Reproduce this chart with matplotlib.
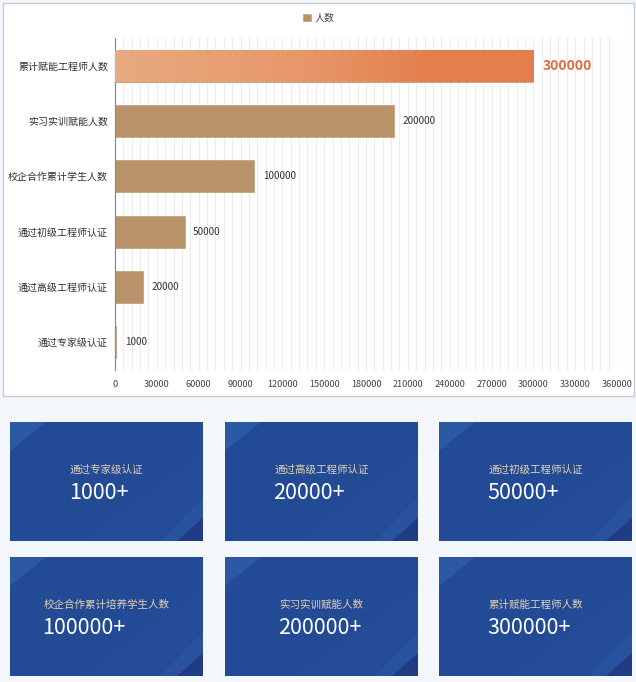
import matplotlib
matplotlib.use("Agg")
import matplotlib.pyplot as plt
import numpy as np
from matplotlib.patches import Rectangle, Polygon
from matplotlib.colors import LinearSegmentedColormap

plt.rcParams['font.family'] = ['Noto Sans CJK SC', 'DejaVu Sans']

# ---------------- data ----------------
categories = ['通过专家级认证', '通过高级工程师认证', '通过初级工程师认证',
              '校企合作累计学生人数', '实习实训赋能人数', '累计赋能工程师人数']
values = [1000, 20000, 50000, 100000, 200000, 300000]
series_name = '人数'
x_ticks = list(range(0, 360001, 30000))

card_labels = ['通过专家级认证', '通过高级工程师认证', '通过初级工程师认证',
               '校企合作累计培养学生人数', '实习实训赋能人数', '累计赋能工程师人数']
card_values = ['1000+', '20000+', '50000+', '100000+', '200000+', '300000+']

# ---------------- figure ----------------
W, H = 636, 682
fig = plt.figure(figsize=(W / 100, H / 100), dpi=100)
fig.patch.set_facecolor('#f3f6fa')

bg = fig.add_axes([0, 0, 1, 1], zorder=0)
bg.set_xlim(0, W)
bg.set_ylim(H, 0)
bg.axis('off')

# chart panel
bg.add_patch(Rectangle((2.5, 2.5), 631.5, 393.5, facecolor='white',
                       edgecolor='#c9cdd6', linewidth=1.0))

# cards
card_x = [10, 225, 439]
card_y = [422, 557]
cw, ch = 193, 119
card_texts = []
for i, (lab, val) in enumerate(zip(card_labels, card_values)):
    r, c = divmod(i, 3)
    x0, y0 = card_x[c], card_y[r]
    bg.add_patch(Rectangle((x0, y0), cw, ch, facecolor='#234a94', edgecolor='none'))
    # subtle lighter diagonal bands
    bg.add_patch(Polygon([(x0 + cw, y0 + 30), (x0 + cw, y0 + 75), (x0 + 150, y0 + ch),
                          (x0 + 70, y0 + ch)], closed=True, facecolor='#254d97',
                         edgecolor='none'))
    bg.add_patch(Polygon([(x0 + cw, y0 + 75), (x0 + cw, y0 + 96), (x0 + 167, y0 + ch),
                          (x0 + 150, y0 + ch)], closed=True, facecolor='#28529d',
                         edgecolor='none'))
    # top-left light triangle
    bg.add_patch(Polygon([(x0, y0), (x0 + 36, y0), (x0, y0 + 29)], closed=True,
                         facecolor='#2c59a4', edgecolor='none'))
    # bottom-right dark triangle
    bg.add_patch(Polygon([(x0 + cw, y0 + 96), (x0 + cw, y0 + ch), (x0 + 167, y0 + ch)],
                         closed=True, facecolor='#203c83', edgecolor='none'))
    cx = x0 + cw / 2
    t = bg.text(cx, y0 + 47.5, lab, ha='center', va='center', fontsize=7.6,
                color='#e2d0b2')
    card_texts.append((t, val, y0))

fig.canvas.draw()
renderer = fig.canvas.get_renderer()
inv = bg.transData.inverted()
for t, val, y0 in card_texts:
    bb = t.get_window_extent(renderer)
    left = inv.transform((bb.x0, bb.y0))[0]
    bg.text(left - 1, y0 + 71, val, ha='left', va='center', fontsize=15.5,
            fontweight='medium', color='white')

# ---------------- bar chart ----------------
L, R, T, B = 115, 617, 38, 370
ax = fig.add_axes([L / W, 1 - B / H, (R - L) / W, (B - T) / H], zorder=2)
ax.patch.set_alpha(0)

ypos = np.arange(len(categories))
bars = ax.barh(ypos, values, height=0.58, color='#b8936a', label=series_name,
               zorder=2, edgecolor='#b8936a', linewidth=0.4)

# gradient for the largest bar
top = bars[-1]
cmap = LinearSegmentedColormap.from_list('g', [(0, '#e8aa80'), (0.45, '#e7976a'),
                                               (0.75, '#e47f4e'), (1, '#e47e4c')])
grad = np.linspace(0, 1, 256).reshape(1, -1)
im = ax.imshow(grad, cmap=cmap, aspect='auto',
               extent=[0, values[-1], ypos[-1] - 0.29, ypos[-1] + 0.29], zorder=3)
im.set_clip_path(top)

ax.set_xlim(0, 360000)
ax.set_ylim(-0.5, len(categories) - 0.5)

# grid lines every 6000
for gx in np.arange(6000, 360001, 6000):
    ax.axvline(gx, color='#ececec', linewidth=0.8, zorder=1)

ax.set_xticks(x_ticks)
ax.set_xticklabels([str(v) for v in x_ticks], fontsize=6.6, color='#444444')
ax.set_yticks(ypos)
ax.set_yticklabels(categories, fontsize=7.2, color='#333333')
ax.tick_params(axis='both', length=0)
ax.tick_params(axis='x', pad=7)
ax.tick_params(axis='y', pad=5)
for s in ['top', 'right', 'bottom']:
    ax.spines[s].set_visible(False)
ax.spines['left'].set_color('#8c8c8c')
ax.spines['left'].set_linewidth(0.9)

for i, (yv, v) in enumerate(zip(ypos, values)):
    if i == len(values) - 1:
        ax.annotate(str(v), (v, yv), xytext=(7, 0), textcoords='offset points',
                    va='center', ha='left', fontsize=10, fontweight='bold',
                    color='#dc6a42')
    else:
        ax.annotate(str(v), (v, yv), xytext=(6, 0), textcoords='offset points',
                    va='center', ha='left', fontsize=7.2, color='#333333')

fig.legend(handles=[bars], labels=[series_name], loc='center',
           bbox_to_anchor=(319 / W, 1 - 18 / H), frameon=False, fontsize=7.2,
           handlelength=0.75, handleheight=0.75, handletextpad=0.4,
           labelcolor='#444444')

fig.savefig('out.png', dpi=100, facecolor=fig.get_facecolor())
